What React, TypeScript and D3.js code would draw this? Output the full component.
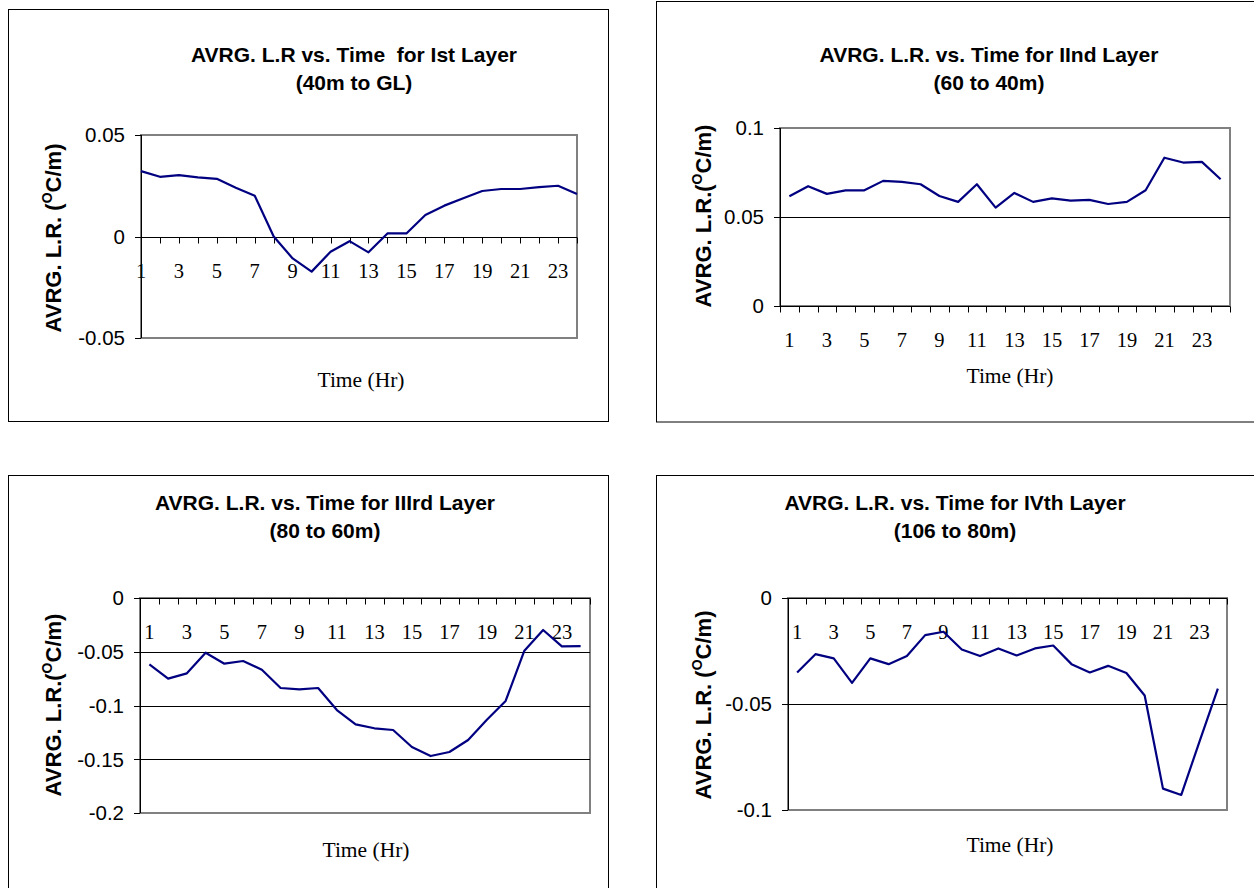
import React from "react";
import * as d3 from "d3";

// ---------- DATA ----------
const HOURS = [1, 2, 3, 4, 5, 6, 7, 8, 9, 10, 11, 12, 13, 14, 15, 16, 17, 18, 19, 20, 21, 22, 23, 24];
const X_LABELS = [1, 3, 5, 7, 9, 11, 13, 15, 17, 19, 21, 23];

const LAYER1 = [0.0322, 0.0294, 0.0302, 0.0291, 0.0284, 0.024, 0.0201, 0.0, -0.0108, -0.0173, -0.0075, -0.0023,
  -0.0078, 0.0015, 0.0015, 0.0106, 0.0152, 0.0188, 0.0224, 0.0234, 0.0234, 0.0243, 0.025, 0.0209];
const LAYER2 = [0.0617, 0.0673, 0.063, 0.065, 0.065, 0.0703, 0.0697, 0.0684, 0.0618, 0.0585, 0.0684, 0.0553,
  0.0635, 0.0585, 0.0605, 0.0592, 0.0596, 0.0573, 0.0585, 0.065, 0.0833, 0.0806, 0.081, 0.0712];
const LAYER3 = [-0.0617, -0.075, -0.0701, -0.0509, -0.0611, -0.0586, -0.0667, -0.0837, -0.085, -0.0837, -0.1042,
  -0.1175, -0.1212, -0.1228, -0.1386, -0.147, -0.1433, -0.1321, -0.1132, -0.0958, -0.049, -0.0298, -0.045, -0.0447];
const LAYER4 = [-0.0351, -0.0265, -0.0285, -0.04, -0.0285, -0.0312, -0.0274, -0.0175, -0.0159, -0.0243, -0.0274,
  -0.0238, -0.0271, -0.0238, -0.0224, -0.0312, -0.0351, -0.032, -0.0354, -0.046, -0.0899, -0.0929, -0.0676, -0.0427];

const TICKS1 = [-0.05, 0, 0.05];
const TICKS2 = [0, 0.05, 0.1];
const TICKS3 = [-0.2, -0.15, -0.1, -0.05, 0];
const TICKS4 = [-0.1, -0.05, 0];

const TITLES1 = ["AVRG. L.R vs. Time  for Ist Layer", "(40m to GL)"];
const TITLES2 = ["AVRG. L.R. vs. Time for IInd Layer", "(60 to 40m)"];
const TITLES3 = ["AVRG. L.R. vs. Time for IIIrd Layer", "(80 to 60m)"];
const TITLES4 = ["AVRG. L.R. vs. Time for IVth Layer", "(106 to 80m)"];
const YLABEL_PREFIX = ["AVRG. L.R. (", "AVRG. L.R.(", "AVRG. L.R.(", "AVRG. L.R. ("];
const X_TITLE = "Time (Hr)";

// ---------- LAYOUT ----------
const SANS = "'Liberation Sans', Arial, sans-serif";
const SERIF = "'Liberation Serif', 'Times New Roman', serif";
const NAVY = "#000080";

type Cfg = {
  frame: [number, number, number, number];
  plot: [number, number, number, number]; // left, right, top, bottom
  domain: [number, number];
  ticks: number[];
  values: number[];
  onTick: boolean;
  titles: string[];
  titleX: number;
  titleY: number;
  ylabelPrefix: string;
  ylabelX: number;
  ylabelY: number;
  xTitleX: number;
  xTitleY: number;
  grid: number[];
};

const PANELS: Cfg[] = [
  {
    frame: [8.5, 9.5, 600, 412], plot: [141, 577, 135, 338], domain: [-0.05, 0.05], ticks: TICKS1,
    values: LAYER1, onTick: true, titles: TITLES1, titleX: 354, titleY: 62, ylabelPrefix: YLABEL_PREFIX[0],
    ylabelX: 53, ylabelY: 238, xTitleX: 361, xTitleY: 387, grid: [],
  },
  {
    frame: [656.5, 1.5, 700, 420.5], plot: [780, 1230, 128, 306], domain: [0, 0.1], ticks: TICKS2,
    values: LAYER2, onTick: false, titles: TITLES2, titleX: 989, titleY: 62, ylabelPrefix: YLABEL_PREFIX[1],
    ylabelX: 703, ylabelY: 216, xTitleX: 1010, xTitleY: 383, grid: [0.05],
  },
  {
    frame: [8.5, 475.5, 600, 500], plot: [140, 590, 598, 813], domain: [-0.2, 0], ticks: TICKS3,
    values: LAYER3, onTick: false, titles: TITLES3, titleX: 325, titleY: 510, ylabelPrefix: YLABEL_PREFIX[2],
    ylabelX: 53, ylabelY: 705, xTitleX: 366, xTitleY: 857, grid: [-0.05, -0.1, -0.15],
  },
  {
    frame: [656.5, 475.5, 700, 500], plot: [788, 1227, 598, 810], domain: [-0.1, 0], ticks: TICKS4,
    values: LAYER4, onTick: false, titles: TITLES4, titleX: 955, titleY: 510, ylabelPrefix: YLABEL_PREFIX[3],
    ylabelX: 703, ylabelY: 705, xTitleX: 1010, xTitleY: 852, grid: [-0.05],
  },
];

function Panel({ c }: { c: Cfg }) {
  const [l, r, t, b] = c.plot;
  const y = d3.scaleLinear().domain(c.domain).range([b, t]);
  const cats = HOURS.map(String);
  let xPos: (h: number) => number;
  let tickXs: number[];
  if (c.onTick) {
    const xp = d3.scalePoint<string>().domain(cats).range([l, r]).padding(0);
    xPos = (h) => xp(String(h)) as number;
    tickXs = HOURS.map((h) => xPos(h));
  } else {
    const xb = d3.scaleBand<string>().domain(cats).range([l, r]).padding(0);
    xPos = (h) => (xb(String(h)) as number) + xb.bandwidth() / 2;
    tickXs = HOURS.map((h) => xb(String(h)) as number).concat([r]);
  }
  const axisY = Math.round(y(0)) + 0.5;
  const line = d3
    .line<number>()
    .x((_, i) => xPos(HOURS[i]))
    .y((v) => y(v));
  const [fx, fy, fw, fh] = c.frame;
  return (
    <g>
      <rect x={fx} y={fy} width={fw} height={fh} fill="#fff" stroke="#000" strokeWidth={1} />
      {c.titles.map((s, i) => (
        <text key={i} x={c.titleX} y={c.titleY + i * 28} textAnchor="middle" fontFamily={SANS}
          fontWeight="bold" fontSize={21} style={{ whiteSpace: "pre" }}>
          {s}
        </text>
      ))}
      {/* plot area border */}
      <rect x={l} y={t} width={r - l} height={b - t} fill="none" stroke="#808080" strokeWidth={2} />
      {/* gridlines */}
      {c.grid.map((g) => (
        <line key={g} x1={l} x2={r} y1={Math.round(y(g)) + 0.5} y2={Math.round(y(g)) + 0.5} stroke="#000" strokeWidth={1} />
      ))}
      {/* y axis */}
      <line x1={l + 0.5} x2={l + 0.5} y1={t} y2={b} stroke="#000" strokeWidth={1} />
      {c.ticks.map((v) => (
        <g key={v}>
          <line x1={l - 6} x2={l} y1={Math.round(y(v)) + 0.5} y2={Math.round(y(v)) + 0.5} stroke="#000" />
          <text x={l - 16} y={y(v)} dy="0.36em" textAnchor="end" fontFamily={SANS} fontSize={20.5}>
            {String(v)}
          </text>
        </g>
      ))}
      {/* x axis */}
      <line x1={l} x2={r} y1={axisY} y2={axisY} stroke="#000" strokeWidth={1} />
      {tickXs.map((x, i) => (
        <line key={i} x1={Math.round(x) + 0.5} x2={Math.round(x) + 0.5} y1={axisY} y2={axisY + 6} stroke="#000" />
      ))}
      {X_LABELS.map((h) => (
        <text key={h} x={xPos(h)} y={axisY + 40} textAnchor="middle" fontFamily={SERIF} fontSize={20.5}>
          {h}
        </text>
      ))}
      {/* series */}
      <path d={line(c.values) || ""} fill="none" stroke={NAVY} strokeWidth={2.2} strokeLinejoin="round" />
      {/* axis titles */}
      <text x={c.xTitleX} y={c.xTitleY} textAnchor="middle" fontFamily={SERIF} fontSize={21.5}>
        {X_TITLE}
      </text>
      <g transform={`translate(${c.ylabelX},${c.ylabelY}) rotate(-90)`}>
        <text x={0} y={0} dy="0.36em" textAnchor="middle" fontFamily={SANS} fontWeight="bold" fontSize={22}
          style={{ whiteSpace: "pre" }}>
          {c.ylabelPrefix}
          <tspan dy={-9} fontSize={14}>O</tspan>
          <tspan dy={9}>C/m)</tspan>
        </text>
      </g>
    </g>
  );
}

export default function App() {
  return (
    <svg width={1254} height={888} style={{ position: "absolute", left: 0, top: 0, background: "#fff" }}>
      <rect x={0} y={0} width={1254} height={888} fill="#fff" />
      {PANELS.map((c, i) => (
        <Panel key={i} c={c} />
      ))}
    </svg>
  );
}
